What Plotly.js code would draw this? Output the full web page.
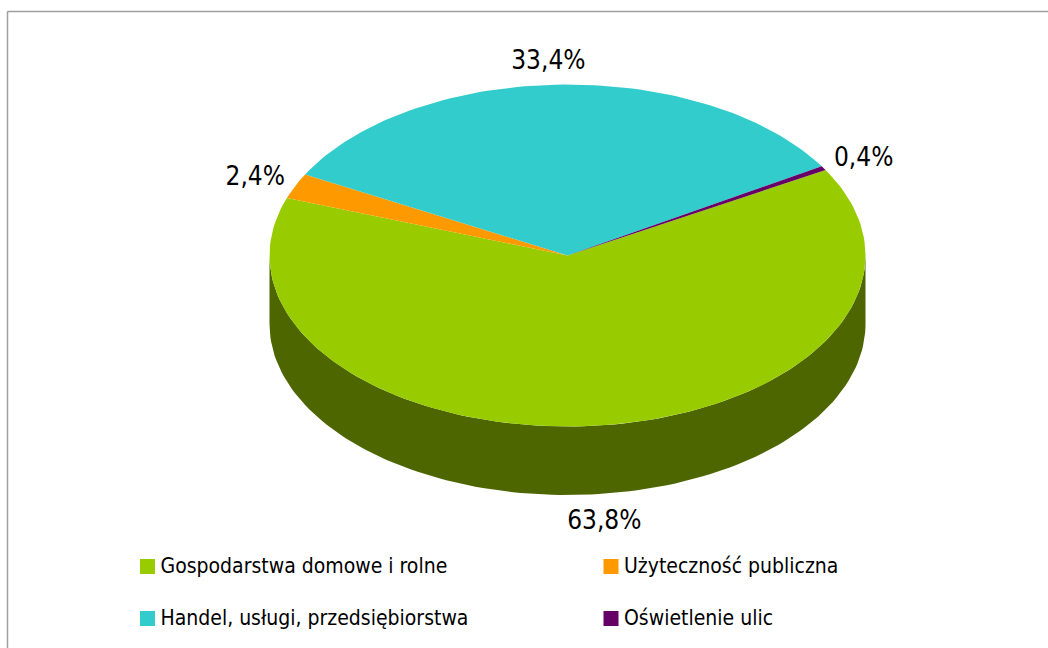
<!DOCTYPE html>
<html>
<head>
<meta charset="utf-8">
<script src="https://cdn.plot.ly/plotly-3.0.1.min.js"></script>
<style>html,body{margin:0;padding:0;background:#fff}#chart{width:1048px;height:648px}</style>
</head>
<body>
<div id="chart"></div>
<script>
// --- data ---
const categories = ["Gospodarstwa domowe i rolne", "Użyteczność publiczna", "Handel, usługi, przedsiębiorstwa", "Oświetlenie ulic"];
const shares = [63.8, 2.4, 33.4, 0.4];
const topColors = ["#99CC00", "#FF9900", "#33CCCC", "#660066"];
const sideColors = ["#4D6600", "#804D00", "#1A6666", "#330033"];

// --- layout constants (pixels of the 1048x648 page) ---
const W = 1048, H = 648;
const cx = 567.5, cy = 255.5, rx = 298, ry = 171, depth = 68.5, firstAngle = 60;
const labelNudge = [[10, 28], [-40, -7], [-11, -22], [40, -9]];
const legendCols = [140, 603.5], legendRows = [566.5, 618.5], swatch = 15, textGap = 5.5, textDrop = 1;
const FONT = "DejaVu Sans Condensed, Tahoma, sans-serif";

const rad = d => d * Math.PI / 180;
const px = t => cx + rx * Math.sin(rad(t));
const py = t => cy - ry * Math.cos(rad(t));

const total = shares.reduce((a, b) => a + b, 0);
let cursor = firstAngle;
const slices = shares.map(v => {
  const s = cursor, e = cursor + v / total * 360;
  cursor = e;
  return { s, e, mid: (s + e) / 2 };
});
function arc(a, b) {
  const n = Math.max(2, Math.ceil((b - a) / 1.5));
  const out = [];
  for (let i = 0; i <= n; i++) out.push(a + (b - a) * i / n);
  return out;
}

const traces = [];
// side wall: only the part of each slice on the front half of the ellipse
slices.forEach((sl, i) => {
  const a = Math.max(sl.s, 90), b = Math.min(sl.e, 270);
  if (b <= a) return;
  const ts = arc(a, b), rev = ts.slice().reverse();
  traces.push({
    x: ts.map(px).concat(rev.map(px)),
    y: ts.map(py).concat(rev.map(t => py(t) + depth)),
    mode: "lines", fill: "toself", fillcolor: sideColors[i],
    line: { width: 0, color: sideColors[i] }, hoverinfo: "skip", showlegend: false
  });
});
// top faces
slices.forEach((sl, i) => {
  const ts = arc(sl.s, sl.e);
  traces.push({
    x: [cx].concat(ts.map(px), [cx]),
    y: [cy].concat(ts.map(py), [cy]),
    mode: "lines", fill: "toself", fillcolor: topColors[i],
    line: { width: 0, color: topColors[i] }, name: categories[i],
    hoverinfo: "name", showlegend: false
  });
});
// percentage labels
traces.push({
  x: slices.map((sl, i) => px(sl.mid) + labelNudge[i][0]),
  y: slices.map((sl, i) => py(sl.mid) + (Math.cos(rad(sl.mid)) < 0 ? depth : 0) + labelNudge[i][1]),
  text: shares.map(v => v.toFixed(1).replace(".", ",") + "%"),
  mode: "text", textposition: "middle center",
  textfont: { family: FONT, size: 26, color: "#000" },
  hoverinfo: "skip", showlegend: false
});
// legend swatches + names, filled across then down
const lx = categories.map((_, i) => legendCols[i % 2]);
const ly = categories.map((_, i) => legendRows[Math.floor(i / 2)]);
traces.push({
  x: lx.map(v => v + swatch / 2), y: ly,
  mode: "markers",
  marker: { symbol: "square", size: swatch, color: topColors, line: { width: 0 } },
  hoverinfo: "skip", showlegend: false
});
traces.push({
  x: lx.map(v => v + swatch + textGap), y: ly.map(v => v + textDrop),
  text: categories, mode: "text", textposition: "middle right",
  textfont: { family: FONT, size: 21, color: "#000" },
  hoverinfo: "skip", showlegend: false
});

const layout = {
  width: W, height: H,
  margin: { l: 0, r: 0, t: 0, b: 0 },
  paper_bgcolor: "#fff", plot_bgcolor: "#fff",
  xaxis: { range: [0, W], visible: false, fixedrange: true },
  yaxis: { range: [H, 0], visible: false, fixedrange: true },
  shapes: [
    { type: "line", xref: "paper", yref: "paper", x0: 7.5 / W, x1: 1, y0: 1 - 11.5 / H, y1: 1 - 11.5 / H, line: { color: "#A0A0A0", width: 1.5 } },
    { type: "line", xref: "paper", yref: "paper", x0: 7.5 / W, x1: 7.5 / W, y0: 0, y1: 1 - 11.5 / H, line: { color: "#A0A0A0", width: 1.5 } }
  ],
  showlegend: false
};
Plotly.newPlot("chart", traces, layout, { displayModeBar: false, staticPlot: true });
</script>
</body>
</html>
